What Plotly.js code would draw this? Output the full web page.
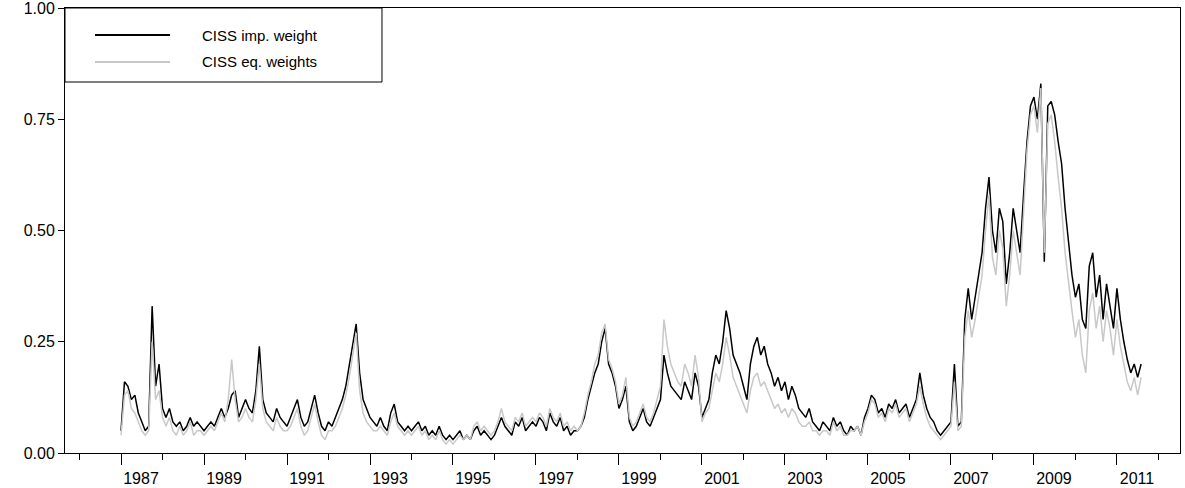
<!DOCTYPE html>
<html>
<head>
<meta charset="utf-8">
<script src="https://cdn.plot.ly/plotly-3.0.1.min.js"></script>
<style>body{margin:0;background:#fff}#chart{width:1185px;height:488px}</style>
</head>
<body>
<div id="chart"></div>
<script>
const START_YEAR = 1987;

// monthly readings, Jan 1987 .. Aug 2011
const cissImp = [
  0.05,0.16,0.15,0.12,0.13,0.09,0.07,0.05,0.06,0.33,0.15,0.20,
  0.10,0.08,0.10,0.07,0.06,0.07,0.05,0.06,0.08,0.06,0.07,0.06,
  0.05,0.06,0.07,0.06,0.08,0.10,0.08,0.10,0.13,0.14,0.08,0.10,
  0.12,0.10,0.09,0.14,0.24,0.12,0.09,0.08,0.07,0.10,0.08,0.07,
  0.06,0.08,0.10,0.12,0.08,0.06,0.07,0.10,0.13,0.09,0.06,0.05,
  0.07,0.06,0.08,0.10,0.12,0.15,0.20,0.25,0.29,0.18,0.12,0.10,
  0.08,0.07,0.06,0.08,0.06,0.05,0.09,0.11,0.07,0.06,0.05,0.06,
  0.05,0.06,0.07,0.05,0.06,0.04,0.05,0.04,0.06,0.04,0.03,0.04,
  0.03,0.04,0.05,0.03,0.04,0.03,0.05,0.06,0.04,0.05,0.04,0.03,
  0.04,0.06,0.08,0.06,0.05,0.04,0.07,0.06,0.08,0.05,0.06,0.07,
  0.06,0.08,0.07,0.05,0.09,0.07,0.06,0.08,0.05,0.06,0.04,0.05,
  0.05,0.06,0.08,0.12,0.15,0.18,0.20,0.25,0.28,0.20,0.18,0.15,
  0.10,0.12,0.15,0.07,0.05,0.06,0.08,0.10,0.07,0.06,0.08,0.10,
  0.12,0.22,0.18,0.15,0.14,0.13,0.12,0.16,0.14,0.12,0.18,0.15,
  0.08,0.10,0.12,0.18,0.22,0.20,0.25,0.32,0.28,0.22,0.20,0.18,
  0.15,0.12,0.20,0.24,0.26,0.22,0.24,0.20,0.18,0.15,0.17,0.14,
  0.16,0.12,0.15,0.13,0.10,0.09,0.08,0.10,0.07,0.06,0.05,0.07,
  0.06,0.05,0.08,0.06,0.07,0.05,0.04,0.06,0.05,0.06,0.04,0.08,
  0.10,0.13,0.12,0.09,0.10,0.08,0.11,0.10,0.12,0.09,0.10,0.11,
  0.08,0.10,0.12,0.18,0.13,0.10,0.08,0.07,0.05,0.04,0.05,0.06,
  0.07,0.20,0.06,0.07,0.30,0.37,0.30,0.35,0.40,0.45,0.55,0.62,
  0.50,0.45,0.55,0.52,0.38,0.45,0.55,0.50,0.45,0.58,0.70,0.78,
  0.80,0.75,0.83,0.43,0.78,0.79,0.76,0.70,0.65,0.55,0.48,0.40,
  0.35,0.38,0.30,0.28,0.42,0.45,0.35,0.40,0.30,0.38,0.33,0.28,
  0.37,0.30,0.25,0.21,0.18,0.20,0.17,0.20
];

const cissEq = [
  0.04,0.13,0.14,0.10,0.09,0.07,0.05,0.04,0.05,0.25,0.12,0.14,
  0.08,0.06,0.08,0.05,0.04,0.06,0.04,0.05,0.07,0.04,0.05,0.05,
  0.04,0.05,0.06,0.05,0.07,0.09,0.07,0.12,0.21,0.12,0.07,0.08,
  0.10,0.08,0.07,0.12,0.20,0.10,0.07,0.06,0.05,0.08,0.06,0.05,
  0.05,0.06,0.08,0.10,0.06,0.04,0.05,0.08,0.11,0.07,0.04,0.03,
  0.05,0.05,0.06,0.08,0.10,0.13,0.17,0.22,0.27,0.14,0.09,0.07,
  0.06,0.05,0.05,0.06,0.05,0.04,0.07,0.09,0.06,0.05,0.04,0.05,
  0.04,0.05,0.06,0.04,0.05,0.03,0.04,0.03,0.05,0.03,0.02,0.03,
  0.02,0.03,0.04,0.03,0.04,0.03,0.06,0.07,0.05,0.06,0.05,0.04,
  0.05,0.07,0.10,0.07,0.06,0.05,0.08,0.07,0.09,0.06,0.07,0.08,
  0.07,0.09,0.08,0.06,0.10,0.08,0.07,0.09,0.06,0.07,0.05,0.06,
  0.05,0.06,0.09,0.13,0.16,0.20,0.22,0.27,0.29,0.21,0.19,0.16,
  0.11,0.13,0.17,0.08,0.06,0.07,0.09,0.11,0.08,0.07,0.09,0.12,
  0.15,0.30,0.24,0.20,0.18,0.16,0.15,0.20,0.18,0.15,0.22,0.17,
  0.07,0.09,0.10,0.14,0.18,0.16,0.20,0.26,0.22,0.17,0.15,0.13,
  0.11,0.09,0.14,0.17,0.18,0.15,0.16,0.14,0.12,0.10,0.11,0.09,
  0.10,0.08,0.10,0.09,0.07,0.06,0.06,0.07,0.05,0.05,0.04,0.05,
  0.05,0.04,0.07,0.05,0.06,0.04,0.04,0.05,0.05,0.06,0.04,0.07,
  0.09,0.12,0.11,0.08,0.09,0.07,0.10,0.09,0.11,0.08,0.09,0.10,
  0.07,0.09,0.11,0.15,0.11,0.08,0.06,0.05,0.04,0.03,0.04,0.05,
  0.06,0.16,0.05,0.06,0.26,0.32,0.26,0.30,0.35,0.40,0.50,0.58,
  0.44,0.40,0.50,0.46,0.33,0.40,0.50,0.45,0.40,0.54,0.68,0.76,
  0.78,0.72,0.82,0.45,0.74,0.76,0.70,0.62,0.55,0.45,0.38,0.32,
  0.26,0.30,0.22,0.18,0.32,0.36,0.28,0.33,0.25,0.32,0.28,0.22,
  0.30,0.24,0.20,0.16,0.14,0.17,0.13,0.17
];

const seriesNames = ['CISS imp. weight', 'CISS eq. weights'];
const seriesColors = ['#000000', '#c8c8c8'];

const tickYears = [];
for (let y = 1987; y <= 2011; y += 2) tickYears.push(y);

const xs = cissImp.map((_, i) => START_YEAR + i / 12);

const data = [cissImp, cissEq].map((vals, k) => ({
  x: xs, y: vals, name: seriesNames[k], type: 'scatter', mode: 'lines',
  line: {color: seriesColors[k], width: 1.5}
}));

// hand-drawn legend box, like the original
const legY = [0.9393, 0.8787];
const shapes = [{type: 'rect', xref: 'paper', yref: 'paper', x0: 0, x1: 0.2843, y0: 0.8337, y1: 1,
                 line: {color: '#000', width: 1}, fillcolor: '#fff', layer: 'above'}];
const annotations = [];
seriesNames.forEach((n, k) => {
  shapes.push({type: 'line', xref: 'paper', yref: 'paper', x0: 0.0269, x1: 0.0942, y0: legY[k], y1: legY[k],
               line: {color: seriesColors[k], width: 2}, layer: 'above'});
  annotations.push({xref: 'paper', yref: 'paper', x: 0.121, y: legY[k], xanchor: 'left', yanchor: 'middle',
                    text: n, showarrow: false, font: {size: 15}});
});

const layout = {
  width: 1185, height: 488,
  margin: {l: 65, r: 5, t: 8, b: 35},
  paper_bgcolor: '#fff', plot_bgcolor: '#fff',
  font: {family: 'Liberation Sans, Arial, sans-serif', size: 16, color: '#000'},
  showlegend: false,
  shapes, annotations,
  xaxis: {
    range: [1985.65, 2012.52], showgrid: false, zeroline: false,
    showline: true, linecolor: '#000', mirror: true,
    tickmode: 'array', tickvals: tickYears, ticktext: tickYears.map(String),
    ticks: 'outside', ticklen: 11, tickcolor: '#000', tickwidth: 1.2, ticklabelshift: 20,
    minor: {dtick: 1, tick0: 1988, ticks: 'outside', ticklen: 6, tickcolor: '#000'}
  },
  yaxis: {
    range: [0, 1], showgrid: false, zeroline: false,
    showline: true, linecolor: '#000', mirror: true, ticklabeloverflow: 'allow',
    tickmode: 'array', tickvals: [0, 0.25, 0.5, 0.75, 1], ticktext: ['0.00', '0.25', '0.50', '0.75', '1.00'],
    ticks: 'outside', ticklen: 6, tickcolor: '#000'
  }
};

Plotly.newPlot('chart', data, layout, {displayModeBar: false});
</script>
</body>
</html>
